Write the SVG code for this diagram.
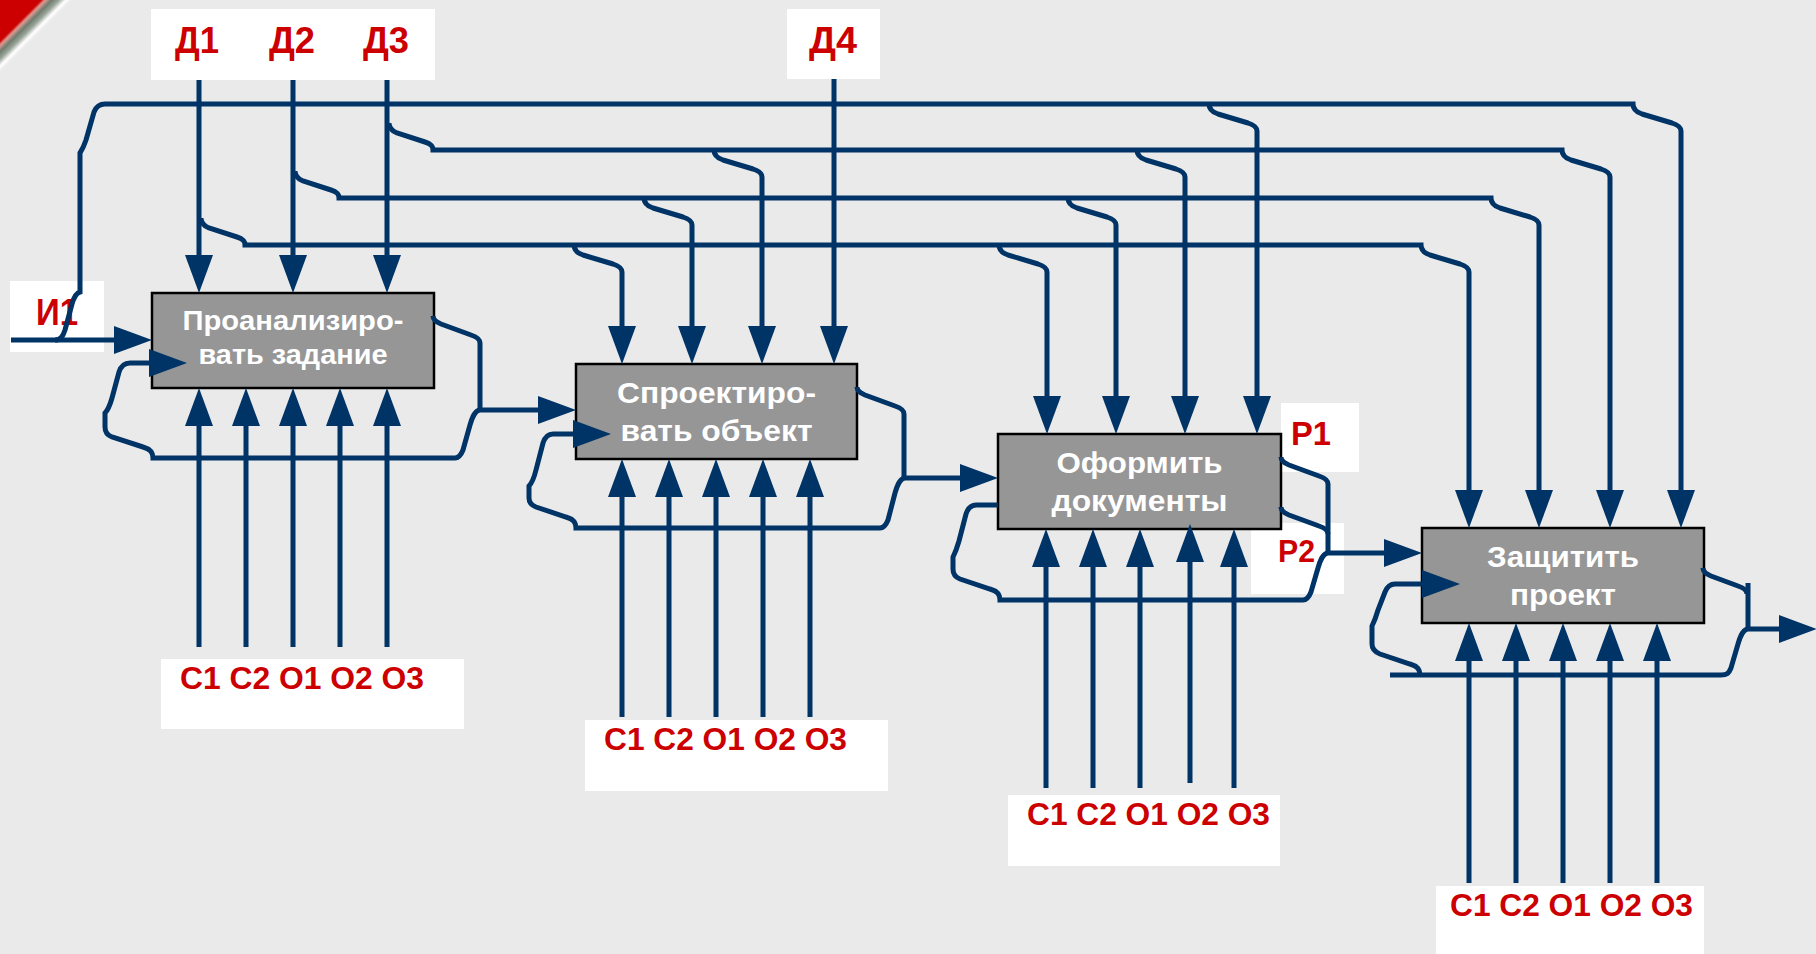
<svg xmlns="http://www.w3.org/2000/svg" width="1816" height="954" viewBox="0 0 1816 954">
<defs>
<linearGradient id="corner" gradientUnits="userSpaceOnUse" x1="0" y1="0" x2="36" y2="36">
<stop offset="0" stop-color="#cc0000"/>
<stop offset="0.57" stop-color="#cc0000"/>
<stop offset="0.63" stop-color="#e09a90"/>
<stop offset="0.72" stop-color="#6e7d6e"/>
<stop offset="0.82" stop-color="#9aa59a"/>
<stop offset="0.92" stop-color="#ffffff"/>
<stop offset="1" stop-color="#eaeaea"/>
</linearGradient>
<marker id="ah" markerUnits="userSpaceOnUse" markerWidth="38" markerHeight="28" viewBox="0 0 38 28" refX="0" refY="14" orient="auto" overflow="visible">
<path d="M0,0 L38,14 L0,28 z" fill="#003366"/>
</marker>
<style>
.ln{fill:none;stroke:#003366;stroke-width:5}
.ar{marker-end:url(#ah)}
.box{fill:#969696;stroke:#000;stroke-width:2.5}
.bt{font-family:"Liberation Sans",Arial,sans-serif;font-weight:bold;fill:#fff;text-anchor:middle}
.lbl{fill:#fff}
.rt{font-family:"Liberation Sans",Arial,sans-serif;font-weight:bold;fill:#cc0000}
</style>
</defs>
<rect width="1816" height="954" fill="#eaeaea"/>
<polygon points="0,0 74,0 0,74" fill="url(#corner)"/>

<g id="labels">
<g id="lbl-d123"><rect class="lbl" x="151" y="9" width="284" height="71"/>
<text class="rt" x="175" y="53" font-size="37" textLength="44" lengthAdjust="spacingAndGlyphs">Д1</text>
<text class="rt" x="269" y="53" font-size="37" textLength="46" lengthAdjust="spacingAndGlyphs">Д2</text>
<text class="rt" x="363" y="53" font-size="37" textLength="46" lengthAdjust="spacingAndGlyphs">Д3</text></g>
<g id="lbl-d4"><rect class="lbl" x="787" y="9" width="93" height="70"/>
<text class="rt" x="809" y="53" font-size="37" textLength="48" lengthAdjust="spacingAndGlyphs">Д4</text></g>
<g id="lbl-i1"><rect class="lbl" x="10" y="281" width="94" height="71"/>
<text class="rt" x="36" y="325" font-size="37" textLength="42" lengthAdjust="spacingAndGlyphs">И1</text></g>
<g id="lbl-r1"><rect class="lbl" x="1281" y="403" width="78" height="69"/>
<text class="rt" x="1291" y="445" font-size="34" textLength="40" lengthAdjust="spacingAndGlyphs">Р1</text></g>
<g id="lbl-r2"><rect class="lbl" x="1251" y="523" width="93" height="71"/>
<text class="rt" x="1278" y="562" font-size="32" textLength="37" lengthAdjust="spacingAndGlyphs">Р2</text></g>
<g id="lbl-m1"><rect class="lbl" x="161" y="659" width="303" height="70"/>
<text class="rt" x="180" y="689" font-size="31" textLength="244" lengthAdjust="spacingAndGlyphs">С1 С2 О1 О2 О3</text></g>
<g id="lbl-m2"><rect class="lbl" x="585" y="720" width="303" height="71"/>
<text class="rt" x="604" y="750" font-size="31" textLength="243" lengthAdjust="spacingAndGlyphs">С1 С2 О1 О2 О3</text></g>
<g id="lbl-m3"><rect class="lbl" x="1008" y="795" width="272" height="71"/>
<text class="rt" x="1027" y="825" font-size="31" textLength="243" lengthAdjust="spacingAndGlyphs">С1 С2 О1 О2 О3</text></g>
<g id="lbl-m4"><rect class="lbl" x="1436" y="886" width="268" height="68"/>
<text class="rt" x="1450" y="916" font-size="31" textLength="243" lengthAdjust="spacingAndGlyphs">С1 С2 О1 О2 О3</text></g>
</g>

<g id="node-a1"><rect class="box" x="152" y="293" width="282" height="95"/>
<text class="bt" x="293" y="330" font-size="28" textLength="221" lengthAdjust="spacingAndGlyphs">Проанализиро-</text>
<text class="bt" x="293" y="364" font-size="28" textLength="189" lengthAdjust="spacingAndGlyphs">вать задание</text></g>
<g id="node-a2"><rect class="box" x="576" y="364" width="281" height="95"/>
<text class="bt" x="716.5" y="403" font-size="30" textLength="199" lengthAdjust="spacingAndGlyphs">Спроектиро-</text>
<text class="bt" x="716.5" y="441" font-size="30" textLength="192" lengthAdjust="spacingAndGlyphs">вать объект</text></g>
<g id="node-a3"><rect class="box" x="998" y="434" width="283" height="95"/>
<text class="bt" x="1139.5" y="473" font-size="30" textLength="166" lengthAdjust="spacingAndGlyphs">Оформить</text>
<text class="bt" x="1139.5" y="511" font-size="30" textLength="176" lengthAdjust="spacingAndGlyphs">документы</text></g>
<g id="node-a4"><rect class="box" x="1422" y="528" width="282" height="95"/>
<text class="bt" x="1563" y="567" font-size="30" textLength="152" lengthAdjust="spacingAndGlyphs">Защитить</text>
<text class="bt" x="1563" y="605" font-size="30" textLength="106" lengthAdjust="spacingAndGlyphs">проект</text></g>

<g id="connectors">
<path class="ln ar" d="M199,80 V255"/>
<path class="ln ar" d="M293,80 V255"/>
<path class="ln ar" d="M387,80 V255"/>
<path class="ln ar" d="M834,79 V326"/>
<path class="ln ar" d="M201,218 c0,5 3,8 8,10 l28,9 c6,2 8,4 8,8 H1421 c0,5 3,8 9,10 l30,9 c6,2 9,4 9,8 V490"/>
<path class="ln ar" d="M295,171 c0,5 3,8 8,10 l28,9 c6,2 8,4 8,8 H1491 c0,5 3,8 9,10 l30,9 c6,2 9,4 9,8 V490"/>
<path class="ln ar" d="M389,123 c0,5 3,8 8,10 l28,9 c6,2 8,4 8,8 H1562 c0,5 3,8 9,10 l30,9 c6,2 9,4 9,8 V490"/>
<path class="ln ar" d="M11,340 H114"/>
<path class="ln ar" d="M55,340 C61,340 63,336 65,330 L72,304 C74,297 76,293 80,292 V153 C82,150 84,146 86,140 L94,112 C96,107 99,104 105,104 H1633 c0,5 3,8 9,10 l30,9 c6,2 9,4 9,8 V490"/>
<path class="ln ar" d="M574,245 c0,5 3,8 9,10 l30,9 c6,2 9,4 9,8 V326"/>
<path class="ln ar" d="M644,198 c0,5 3,8 9,10 l30,9 c6,2 9,4 9,8 V326"/>
<path class="ln ar" d="M714,150 c0,5 3,8 9,10 l30,9 c6,2 9,4 9,8 V326"/>
<path class="ln ar" d="M999,245 c0,5 3,8 9,10 l30,9 c6,2 9,4 9,8 V396"/>
<path class="ln ar" d="M1068,198 c0,5 3,8 9,10 l30,9 c6,2 9,4 9,8 V396"/>
<path class="ln ar" d="M1137,150 c0,5 3,8 9,10 l30,9 c6,2 9,4 9,8 V396"/>
<path class="ln ar" d="M1209,104 c0,5 3,8 9,10 l30,9 c6,2 9,4 9,8 V396"/>
<path class="ln ar" d="M433,316 c0,4 3,6 8,8 l30,11 c6,2 9,4 9,8 V410 H538"/>
<path class="ln ar" d="M479,410 C474,412 472,418 470,425 L463,450 C461,455 459,458 455,458 H153 C153,452 150,449 143,447 L112,437 C107,435 105,432 105,427 V413 C108,410 110,405 112,398 L119,372 C121,366 124,363 130,363 H149"/>
<path class="ln ar" d="M857,387 c0,4 3,6 8,8 l30,11 c6,2 9,4 9,8 V478 H960"/>
<path class="ln ar" d="M904,478 C899,480 897,486 895,493 L888,520 C886,525 884,528 880,528 H576 C576,522 573,519 566,517 L536,507 C531,505 529,502 529,498 V486 C532,483 534,478 536,470 L543,443 C545,437 548,434 553,434 H573"/>
<path class="ln ar" d="M1281,457 c0,4 3,6 8,8 l30,11 c6,2 9,4 9,8 V553 H1384"/>
<path class="ln" d="M1281,507 c0,4 3,6 8,8 l30,11 c6,2 9,4 9,8"/>
<path class="ln" d="M1327,553 C1322,555 1320,561 1318,568 L1311,592 C1309,597 1307,600 1303,600 H1000 C1000,594 997,591 990,589 L960,579 C955,577 953,574 953,569 V557 C955,553 957,548 959,541 L966,514 C968,508 971,505 976,505 H998"/>
<path class="ln" d="M1703,568 c0,4 3,6 8,8 l27,10 c6,2 9,4 9,8"/>
<path class="ln ar" d="M1748,583 V629 H1779"/>
<path class="ln" d="M1747,629 C1742,631 1740,637 1738,644 L1731,668 C1729,673 1727,675 1721,675 H1390"/>
<path class="ln ar" d="M1420,675 C1420,669 1417,666 1410,664 L1380,654 C1375,652 1372,649 1372,644 V626 C1374,622 1376,617 1378,610 L1385,592 C1387,587 1390,584 1395,584 H1422"/>
<path class="ln ar" d="M199,647 V426"/>
<path class="ln ar" d="M246,647 V426"/>
<path class="ln ar" d="M293,647 V426"/>
<path class="ln ar" d="M340,647 V426"/>
<path class="ln ar" d="M387,647 V426"/>
<path class="ln ar" d="M622,717 V497"/>
<path class="ln ar" d="M669,717 V497"/>
<path class="ln ar" d="M716,717 V497"/>
<path class="ln ar" d="M763,717 V497"/>
<path class="ln ar" d="M810,717 V497"/>
<path class="ln ar" d="M1046,788 V567"/>
<path class="ln ar" d="M1093,788 V567"/>
<path class="ln ar" d="M1140,788 V567"/>
<path class="ln ar" d="M1190,783 V562"/>
<path class="ln ar" d="M1234,788 V567"/>
<path class="ln ar" d="M1469,883 V661"/>
<path class="ln ar" d="M1516,883 V661"/>
<path class="ln ar" d="M1563,883 V661"/>
<path class="ln ar" d="M1610,883 V661"/>
<path class="ln ar" d="M1657,883 V661"/>
</g>
</svg>
